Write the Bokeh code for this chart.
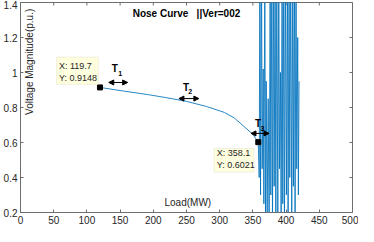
from bokeh.plotting import figure
from bokeh.models import Range1d, FixedTicker, Label, BoxAnnotation, Arrow, NormalHead
from bokeh.embed import file_html
from bokeh.resources import INLINE
import math

# ---- data ----
curve_x = [119.7, 150.0, 192.9, 220.0, 250.0, 280.0, 307.0, 322.0, 335.7, 350.0, 358.1]
curve_y = [0.9148, 0.897, 0.873, 0.856, 0.835, 0.806, 0.772, 0.740, 0.695, 0.646, 0.6021]

noise_x = [359.5, 360.5, 361.5, 363.0, 364.0, 365.5, 366.5, 368.0, 369.0, 370.0,
           371.5, 373.0, 374.5, 376.0, 377.0, 378.5, 379.5, 381.0, 382.0, 383.5,
           384.5, 386.0, 387.5, 389.0, 390.0, 391.5, 392.5, 394.0, 395.0, 396.5,
           397.5, 399.0, 400.5, 402.0, 403.0, 404.5, 405.5, 407.0, 408.5, 410.0,
           411.0, 412.5, 413.5, 415.0, 416.0, 417.5, 418.5, 419.5]
noise_y = [0.40, 1.60, 0.30, 1.60, 0.45, 1.02, 0.25, 1.60, 0.10, 0.95,
           0.20, 0.85, 0.05, 1.60, 0.30, 1.60, 0.10, 1.60, 0.35, 1.60,
           0.05, 1.60, 0.20, 1.60, 0.45, 1.00, 0.10, 1.60, 0.25, 1.60,
           0.05, 1.60, 0.30, 1.60, 0.10, 1.60, 0.40, 1.60, 0.15, 1.60,
           0.35, 1.60, 0.20, 1.60, 0.45, 1.20, 0.30, 0.95]

x_ticks = [0, 50, 100, 150, 200, 250, 300, 350, 400, 450, 500]
y_ticks = [0.2, 0.4, 0.6, 0.8, 1.0, 1.2, 1.4]
y_tick_labels = ["0.2", "0.4", "0.6", "0.8", "1", "1.2", "1.4"]

tip_x = [119.7, 358.1]
tip_y = [0.9148, 0.6021]
tip_text_x = [57.9, 295.7]
tip_text_y1 = [1.036, 0.539]
tip_text_y2 = [0.969, 0.473]
tip_box_left = [54.3, 291.4]
tip_box_right = [117.1, 351.4]
tip_box_top = [1.088, 0.566]
tip_box_bottom = [0.932, 0.431]

t_names = ["1", "2", "3"]
t_x = [142.1, 249.3, 357.9]
t_y = [1.023, 0.916, 0.711]
t_sub_x = [150.0, 255.7, 364.3]
t_sub_y = [0.996, 0.889, 0.679]
arr_x0 = [132.9, 238.6, 347.1]
arr_x1 = [161.4, 268.6, 374.3]
arr_y = [0.943, 0.851, 0.652]

FONT = "Liberation Sans"
AX = "#6e6e6e"
TXT = "#262626"
BLUE = "#0072BD"

p = figure(width=358, height=226, output_backend="svg", toolbar_location=None,
           x_range=Range1d(0, 500), y_range=Range1d(0.2, 1.4),
           min_border_top=2, min_border_right=6, min_border_left=0, min_border_bottom=0)
p.outline_line_color = AX
p.xgrid.visible = False
p.ygrid.visible = False
p.background_fill_color = "white"

def style(ax, ticks):
    ax.ticker = FixedTicker(ticks=ticks)
    ax.axis_line_color = AX
    ax.major_tick_line_color = AX
    ax.major_tick_in = 3
    ax.major_tick_out = 0
    ax.minor_tick_line_color = None
    ax.major_label_text_font = FONT
    ax.major_label_text_font_size = "10px"
    ax.major_label_text_color = TXT
    ax.major_label_standoff = 3

style(p.xaxis[0], x_ticks)
style(p.yaxis[0], y_ticks)
p.yaxis[0].major_label_overrides = {v: s for v, s in zip(y_ticks, y_tick_labels)}

# inward ticks on top and right edges (box on)
p.scatter(x_ticks, [1.4] * len(x_ticks), marker="dash", angle=math.pi / 2, size=6,
          line_color=AX, line_width=1)
p.scatter([500] * len(y_ticks), y_ticks, marker="dash", size=6, line_color=AX, line_width=1)

# line
all_x = curve_x + noise_x
all_y = curve_y + noise_y
p.line(all_x, all_y, line_color=BLUE, line_width=1, line_alpha=0.85)

# data tips
for i in range(len(tip_x)):
    p.add_layout(BoxAnnotation(left=tip_box_left[i], right=tip_box_right[i],
                               top=tip_box_top[i], bottom=tip_box_bottom[i],
                               fill_color="#FFFFE0", fill_alpha=1.0,
                               line_color="#cfcfb0", line_width=1, level="overlay"))
    p.add_layout(Label(x=tip_text_x[i], y=tip_text_y1[i], text=f"X: {tip_x[i]:.1f}",
                       text_font=FONT, text_font_size="9px", text_color=TXT,
                       text_baseline="middle", text_align="left", level="overlay"))
    p.add_layout(Label(x=tip_text_x[i], y=tip_text_y2[i], text=f"Y: {tip_y[i]:.4f}",
                       text_font=FONT, text_font_size="9px", text_color=TXT,
                       text_baseline="middle", text_align="left", level="overlay"))
p.scatter(tip_x, tip_y, marker="square", size=5, fill_color="black", line_color="black")

# T labels & arrows
for i in range(len(t_names)):
    p.add_layout(Label(x=t_x[i], y=t_y[i], text="T", text_font=FONT, text_font_size="10px",
                       text_font_style="bold", text_color="black",
                       text_align="center", text_baseline="middle"))
    p.add_layout(Label(x=t_sub_x[i], y=t_sub_y[i], text=t_names[i], text_font=FONT,
                       text_font_size="7px", text_font_style="bold", text_color="black",
                       text_align="center", text_baseline="middle"))
    p.add_layout(Arrow(x_start=arr_x0[i], y_start=arr_y[i], x_end=arr_x1[i], y_end=arr_y[i],
                       line_color="black", line_width=1,
                       start=NormalHead(size=5, fill_color="black", line_color="black"),
                       end=NormalHead(size=5, fill_color="black", line_color="black")))

# title and axis labels inside the plot
p.add_layout(Label(x=250, y=1.335, text="Nose Curve\u00a0\u00a0\u00a0||Ver=002", text_font=FONT,
                   text_font_size="10px", text_font_style="bold", text_color="black",
                   text_align="center", text_baseline="middle"))
p.add_layout(Label(x=14.3, y=1.061, text="Voltage Magnitude(p.u.)", text_font=FONT,
                   text_font_size="10px", text_color=TXT, angle=math.pi / 2,
                   text_align="center", text_baseline="middle"))
p.add_layout(Label(x=252, y=0.256, text="Load(MW)", text_font=FONT,
                   text_font_size="10px", text_color=TXT,
                   text_align="center", text_baseline="middle"))

open("out.html", "w").write(file_html(p, INLINE))
